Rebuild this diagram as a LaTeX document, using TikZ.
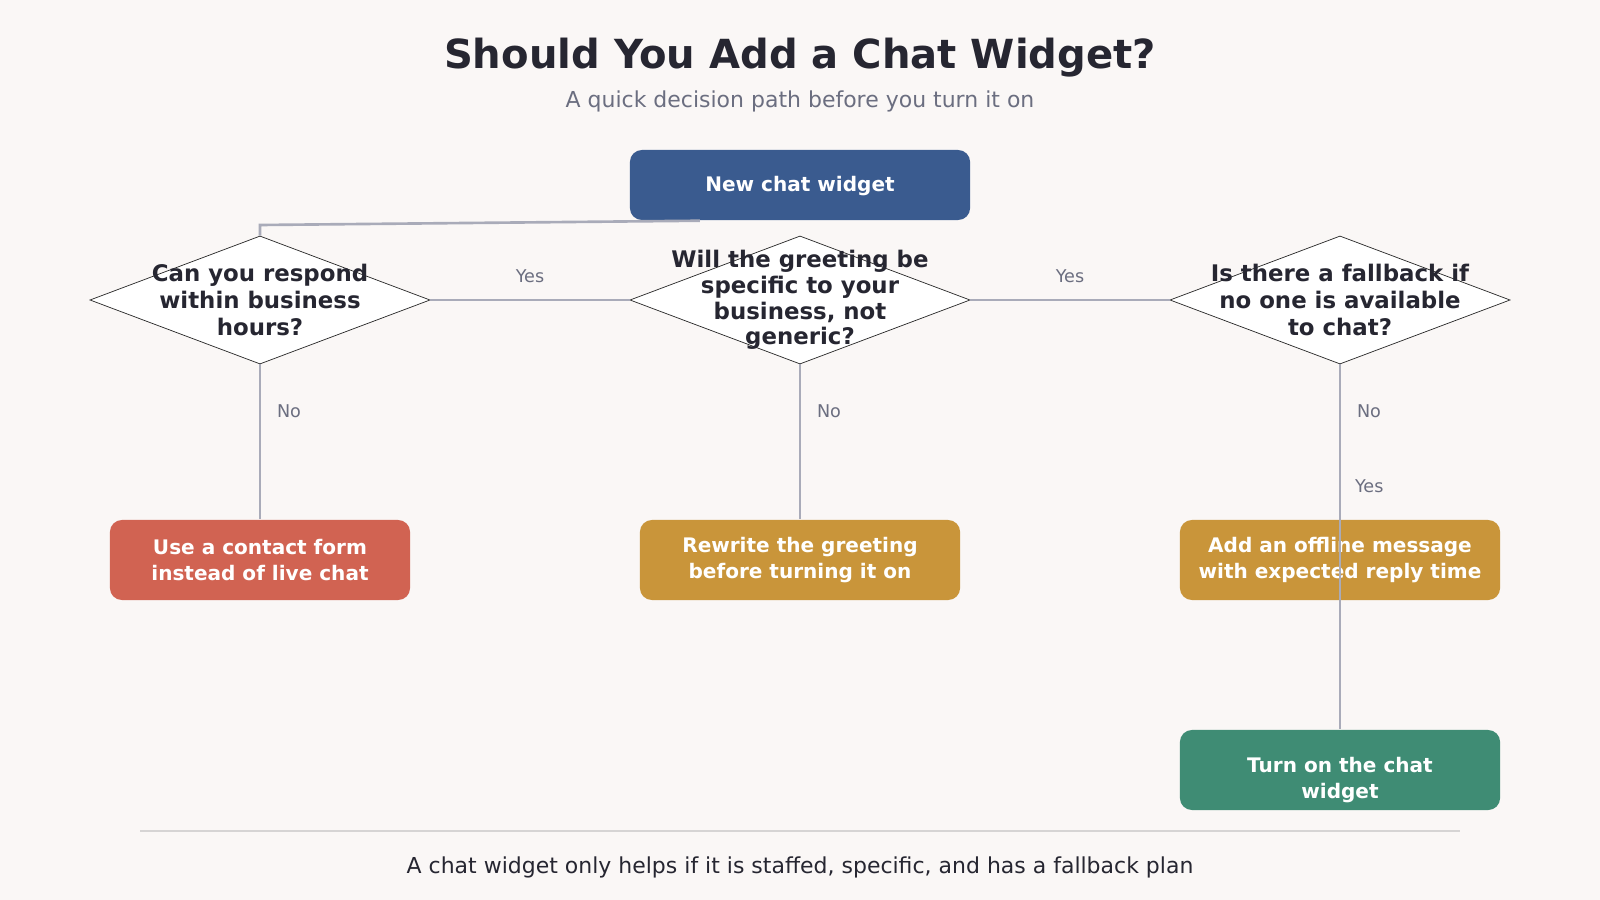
\documentclass[tikz,border=0pt]{standalone}
\usepackage{fontspec}
\setmainfont{DejaVu Sans}
\usepackage{xcolor}
\usetikzlibrary{shapes.geometric}
\usetikzlibrary{positioning, calc}

\definecolor{bgpaper}{HTML}{FAF7F6}
\definecolor{inkdark}{HTML}{262631}
\definecolor{inkgray}{HTML}{6B6E80}
\definecolor{linkgray}{HTML}{A9ABB9}
\definecolor{rulegray}{HTML}{D6D4D4}
\definecolor{startblue}{HTML}{3A5B8F}
\definecolor{stopred}{HTML}{D16352}
\definecolor{fixamber}{HTML}{C9953A}
\definecolor{gogreen}{HTML}{3F8C74}

\begin{document}
\begin{tikzpicture}[x=0.01cm,y=-0.01cm,
  box/.style={rounded corners=0.12cm,minimum width=3.2cm,minimum height=0.8cm,
    inner sep=0pt,text=white,align=center,font=\fontsize{5.7}{7.5}\selectfont\bfseries},
  decision/.style={diamond,draw=black!85,line width=0.2pt,fill=white,
    minimum width=3.4cm,minimum height=1.28cm,inner sep=0pt},
  question/.style={align=center,text=inkdark,font=\fontsize{6.5}{7.8}\selectfont\bfseries},
  link/.style={draw=linkgray,line width=0.75pt},
  tag/.style={text=inkgray,font=\fontsize{5}{6}\selectfont}]

% --- Fondo e margini
\fill[bgpaper] (0,0) rectangle (1600,900);

% --- Titolo
\node[text=inkdark,font=\fontsize{11.4}{13}\selectfont\bfseries] (title) at (800,58)
  {Should You Add a Chat Widget?};
\node[text=inkgray,font=\fontsize{6.25}{7.5}\selectfont] (subtitle) at (800,101)
  {A quick decision path before you turn it on};

% --- Nodo iniziale
\node[box,fill=startblue,minimum width=3.4cm,minimum height=0.7cm] (start) at (800,185)
  {\rule{0pt}{0.17cm}New chat widget};

% --- Domande (rombi + testo)
\node[decision] (q1) at (260,300) {};
\node[decision] (q2) at (800,300) {};
\node[decision] (q3) at (1340,300) {};
\node[question] (q1txt) at (q1) {Can you respond\\within business\\hours?};
\node[question,font=\fontsize{6.5}{7.35}\selectfont\bfseries] (q2txt) at (q2)
  {Will the greeting be\\specific to your\\business, not\\generic?};
\node[question] (q3txt) at (q3) {Is there a fallback if\\no one is available\\to chat?};

% --- Esiti
\node[box,fill=stopred,minimum width=3cm] (form) at (260,560)
  {Use a contact form\\instead of live chat};
\node[box,fill=fixamber] (rewrite) at (800,560)
  {Rewrite the greeting\\before turning it on};
\node[box,fill=fixamber] (offline) at (1340,560)
  {Add an offline message\\with expected reply time};
\node[box,fill=gogreen] (golive) at (1340,770)
  {\rule{0pt}{0.35cm}Turn on the chat\\widget};

% --- Collegamenti
\coordinate (bend) at (260,225);
\draw[link] ([xshift=-1cm]start.south) -- (bend) -- (q1.north);

\draw[link] (q1.east) -- node[tag,midway,above=0.045cm] {Yes} (q2.west);
\draw[link] (q2.east) -- node[tag,midway,above=0.045cm] {Yes} (q3.west);

\draw[link] (q1.south) -- node[tag,pos=0.3,right=0.04cm] {No} (form.north);
\draw[link] (q2.south) -- node[tag,pos=0.3,right=0.04cm] {No} (rewrite.north);
\draw[link] (q3.south) -- node[tag,pos=0.3,right=0.04cm] {No} (offline.north);
\draw[link] (q3.south) -- node[tag,pos=0.333,right=0.02cm] {Yes} (golive.north);

% --- Nota finale
\draw[rulegray,line width=0.4pt] (140,831) -- (1460,831);
\node[text=inkdark,font=\fontsize{6.25}{7.5}\selectfont] (footer) at (800,867)
  {A chat widget only helps if it is staffed, specific, and has a fallback plan};

\end{tikzpicture}
\end{document}
